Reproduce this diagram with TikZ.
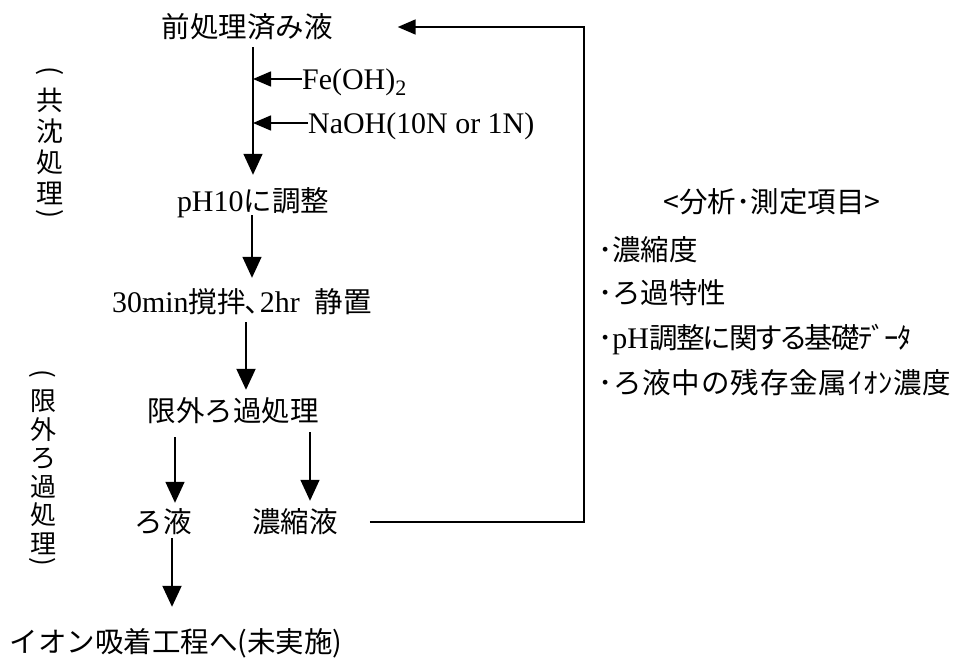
\documentclass[tikz,border=0pt]{standalone}
\usepackage{graphicx}
\usepackage{fontspec}
\setmainfont{Liberation Serif}[Scale=1.05]
\newfontfamily\jp{Noto Sans CJK JP}
\newfontfamily\jpn{Noto Sans CJK JP}[RawFeature=+palt, LetterSpace=-5]
\newfontfamily\jpw{Noto Sans CJK JP}[LetterSpace=3]
\newcommand\J[1]{{\jp #1}}
\newcommand\vpo{\rotatebox[origin=c]{-90}{\jp (}}
\newcommand\vpc{\rotatebox[origin=c]{-90}{\jp )}}
\newcommand\sbtwo{\raisebox{-6pt}{\fontsize{21}{21}\selectfont 2}}
\usetikzlibrary{arrows.meta}
\tikzset{
  txt/.style={inner sep=0pt, font=\fontsize{28.5}{34}\selectfont, text height=24pt, text depth=4pt},
  arr/.style={line width=1.5pt, -{Triangle[width=19pt,length=21pt]}},
  sarr/.style={line width=1.5pt, -{Triangle[width=15pt,length=18pt]}},
  vlab/.style={inner sep=0pt, align=center, font=\jp\fontsize{27}{31}\selectfont},
  vlabb/.style={inner sep=0pt, align=center, font=\jp\fontsize{26}{28.5}\selectfont},
}
\begin{document}
\begin{tikzpicture}[x=1pt,y=-1pt]
\useasboundingbox (0,0) rectangle (965,664);
% helper x-positions
\coordinate (m) at (253,0);
\coordinate (m2) at (252,0);
\coordinate (m3) at (246,0);
\coordinate (bl) at (175,0);
\coordinate (br) at (310,0);
\coordinate (bb) at (172,0);
\coordinate (rc) at (584,300);
% main flow
\node[txt] (pre) at (247,27) {\J{前処理済み液}};
\node[txt, anchor=west] (fe) at (302,79) {Fe(OH)\sbtwo};
\node[txt, anchor=west] (na) at (308,123) {NaOH(10N or 1N)};
\node[txt] (ph) at (253,201) {pH10\J{に調整}};
\node[txt] (st) at (242,302) {30min\J{撹拌､}2hr\hspace{15pt}\J{静置}};
\node[txt] (uf) at (233,411) {\J{限外ろ過処理}};
\node[txt] (rf) at (163,522) {\J{ろ液}};
\node[txt] (cc) at (295,522) {\J{濃縮液}};
\node[txt] (io) at (176,642) {\J{イオン吸着工程へ(未実施)}};
% right column
\node[txt] (ti) at (772,202) {\J{<分析･測定項目>}};
\node[txt, anchor=west] (i1) at (598,250) {\J{･濃縮度}};
\node[txt, anchor=west] (i2) at (598,293) {\J{･ろ過特性}};
\node[txt, anchor=west] (i3) at (598,338) {\J{･}pH{\jpn 調整に関する基礎ﾃﾞｰﾀ}};
\node[txt, anchor=west] (i4) at (598,383) {{\jpw ･ろ液中の残存金属ｲｵﾝ濃度}};
% vertical labels
\node[vlab] (v1) at (50,144.5) {\vpo\\共\\沈\\処\\理\\[-12pt]\vpc};
\node[vlabb] (v2) at (43,469.5) {\vpo\\限\\外\\ろ\\過\\処\\理\\[-12pt]\vpc};
% connectors
\draw[arr, shorten <=6pt, shorten >=12pt] (pre.south -| m) -- (ph.north -| m);
\draw[sarr] (fe.west) -- (fe.west -| m);
\draw[sarr] (na.west) -- (na.west -| m);
\draw[arr, shorten >=10pt] (ph.south -| m2) -- (st.north -| m2);
\draw[arr, line width=2pt, shorten <=6pt, shorten >=7pt] (st.south -| m3) -- (uf.north -| m3);
\draw[arr, shorten <=12pt, shorten >=5pt] (uf.south -| bl) -- (rf.north -| bl);
\draw[arr, shorten <=7pt, shorten >=7pt] (uf.south -| br) -- (cc.north -| br);
\draw[arr, line width=2pt, shorten <=2pt, shorten >=21pt] (rf.south -| bb) -- (io.north -| bb);
\draw[sarr, line width=1.8pt] ([xshift=32pt]cc.east) -| (rc) |- ([xshift=65pt]pre.east);
\end{tikzpicture}
\end{document}
